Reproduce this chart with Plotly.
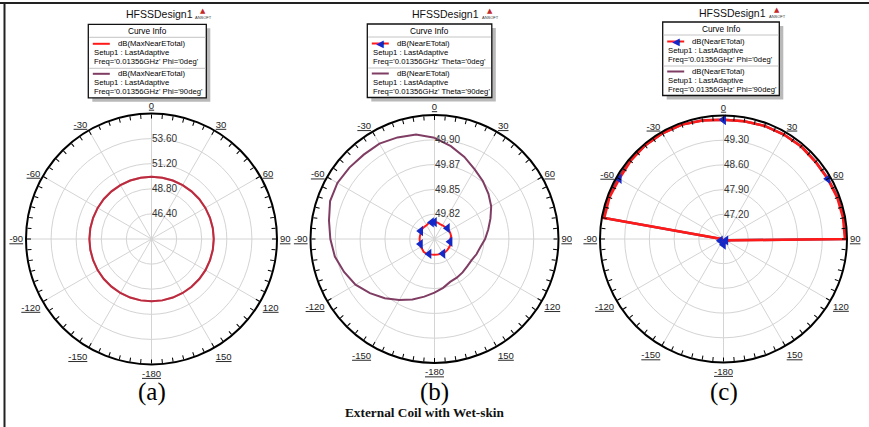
import plotly.graph_objects as go

W, H = 869, 427
FONT = "Liberation Sans, Arial, sans-serif"
SERIF = "Liberation Serif, Times New Roman, serif"

# ---------------- data ----------------
theta_deg = list(range(0, 361, 10))  # 0..360, clockwise from top

# (a) dB(MaxNearETotal)
a_phi0 = [49.95, 49.95, 49.95, 49.95, 49.95, 49.95, 49.95, 49.95, 49.95, 49.95,
          49.95, 49.95, 49.96, 49.96, 49.96, 49.96, 49.96, 49.96, 49.96, 49.96,
          49.96, 49.96, 49.95, 49.95, 49.95, 49.94, 49.94, 49.94, 49.94, 49.94,
          49.94, 49.95, 49.95, 49.95, 49.95, 49.95, 49.95]
a_phi90 = [49.95, 49.95, 49.95, 49.95, 49.95, 49.95, 49.95, 49.95, 49.96, 49.96,
           49.96, 49.96, 49.96, 49.96, 49.96, 49.96, 49.96, 49.96, 49.96, 49.96,
           49.96, 49.95, 49.95, 49.95, 49.95, 49.94, 49.94, 49.94, 49.94, 49.94,
           49.95, 49.95, 49.95, 49.95, 49.95, 49.95, 49.95]

# (b) dB(NearETotal)  Theta=0deg / Theta=90deg
b_theta0 = [49.814, 49.814, 49.813, 49.813, 49.813, 49.814, 49.814, 49.814, 49.814, 49.813,
            49.813, 49.814, 49.814, 49.814, 49.814, 49.814, 49.813, 49.813, 49.813, 49.813,
            49.813, 49.814, 49.814, 49.813, 49.813, 49.812, 49.812, 49.812, 49.812, 49.812,
            49.813, 49.813, 49.813, 49.813, 49.814, 49.814, 49.814]
b_theta90 = [49.899, 49.892, 49.885, 49.878, 49.873, 49.868, 49.863, 49.857, 49.852, 49.848,
             49.844, 49.842, 49.840, 49.840, 49.841, 49.842, 49.843, 49.847, 49.851, 49.856,
             49.862, 49.868, 49.875, 49.882, 49.889, 49.894, 49.899, 49.902, 49.905, 49.909,
             49.910, 49.909, 49.908, 49.908, 49.906, 49.904, 49.899]

# (c) dB(NearETotal)  Phi=0deg / Phi=90deg
c_phi0 = [49.88, 49.89, 49.91, 49.92, 49.92, 49.90, 49.91, 49.93, 49.94, 49.94,
          46.72, 46.62, 46.58, 46.60, 46.63, 46.60, 46.57, 46.62, 46.66, 46.62,
          46.58, 46.55, 46.60, 46.64, 46.60, 46.56, 46.54, 46.55, 49.93, 49.94,
          49.91, 49.94, 49.96, 49.96, 49.95, 49.91, 49.88]
c_phi90 = [49.88, 49.89, 49.91, 49.92, 49.93, 49.91, 49.92, 49.95, 49.96, 49.96,
           46.70, 46.64, 46.60, 46.58, 46.61, 46.62, 46.59, 46.60, 46.64, 46.63,
           46.60, 46.57, 46.58, 46.62, 46.62, 46.58, 46.56, 46.56, 49.97, 49.97,
           49.95, 49.95, 49.96, 49.96, 49.95, 49.92, 49.88]

# radial scales and ring labels
a_range, a_ticks, a_text = [44.0, 56.0], [46.4, 48.8, 51.2, 53.6], ["46.40", "48.80", "51.20", "53.60"]
b_range, b_ticks, b_text = [49.797, 49.922], [49.822, 49.847, 49.872, 49.897], ["49.82", "49.85", "49.87", "49.90"]
c_range, c_ticks, c_text = [46.5, 50.0], [47.2, 47.9, 48.6, 49.3], ["47.20", "47.90", "48.60", "49.30"]

ang_minor = list(range(0, 360, 5))
ang_text = ["<u>%d</u>" % (v if v < 180 else v - 360) if v % 30 == 0 else "" for v in ang_minor]

setup_txt = "Setup1 : LastAdaptive"
freq_txt = "Freq='0.01356GHz'"
a_names = ["dB(MaxNearETotal)", "dB(MaxNearETotal)"]
a_cond = ["Phi='0deg'", "Phi='90deg'"]
b_names = ["dB(NearETotal)", "dB(NearETotal)"]
b_cond = ["Theta='0deg'", "Theta='90deg'"]
c_names = ["dB(NearETotal)", "dB(NearETotal)"]
c_cond = ["Phi='0deg'", "Phi='90deg'"]

RED = "#ff1a1a"
PURPLE = "#7f3d63"
BLUE = "#1428c8"


def full_name(n, c):
    return "%s<br>%s<br>%s %s" % (n, setup_txt, freq_txt, c)


fig = go.Figure()

# ---- (a)
fig.add_trace(go.Scatterpolar(r=a_phi0, theta=theta_deg, mode="lines", subplot="polar",
                              line=dict(color=RED, width=2), showlegend=False,
                              name=full_name(a_names[0], a_cond[0])))
fig.add_trace(go.Scatterpolar(r=a_phi90, theta=theta_deg, mode="lines", subplot="polar",
                              line=dict(color=PURPLE, width=2), opacity=0.55, showlegend=False,
                              name=full_name(a_names[1], a_cond[1])))
# ---- (b)
fig.add_trace(go.Scatterpolar(r=b_theta0, theta=theta_deg, mode="lines+markers", subplot="polar3",
                              line=dict(color=RED, width=2),
                              marker=dict(symbol="triangle-left", size=9, color=BLUE, maxdisplayed=8),
                              showlegend=False, name=full_name(b_names[0], b_cond[0])))
fig.add_trace(go.Scatterpolar(r=b_theta90, theta=theta_deg, mode="lines", subplot="polar3",
                              line=dict(color=PURPLE, width=2), showlegend=False,
                              name=full_name(b_names[1], b_cond[1])))
# ---- (c)
fig.add_trace(go.Scatterpolar(r=c_phi90, theta=theta_deg, mode="lines", subplot="polar5",
                              line=dict(color=PURPLE, width=2.5), showlegend=False,
                              name=full_name(c_names[1], c_cond[1])))
fig.add_trace(go.Scatterpolar(r=c_phi0, theta=theta_deg, mode="lines+markers", subplot="polar5",
                              line=dict(color=RED, width=2.5),
                              marker=dict(symbol="triangle-left", size=9, color=BLUE, maxdisplayed=7),
                              showlegend=False, name=full_name(c_names[0], c_cond[0])))


def dom(cx, cy, R):
    return dict(x=[(cx - R) / W, (cx + R) / W], y=[(H - cy - R) / H, (H - cy + R) / H])


def main_polar(d, rng, tv, tt):
    return dict(
        domain=d, bgcolor="white", sector=[0, 360],
        angularaxis=dict(rotation=90, direction="clockwise", tickvals=list(range(0, 360, 30)),
                         showticklabels=False, ticks="", showgrid=True, gridcolor="#d4d4d4",
                         gridwidth=1, showline=False),
        radialaxis=dict(range=rng, tickvals=tv, ticktext=tt, angle=90, side="clockwise",
                        tickangle=90, showline=False, ticks="", showgrid=True,
                        gridcolor="#d4d4d4", gridwidth=1,
                        tickfont=dict(family=FONT, size=10, color="#333")),
    )


def tick_polar(d, rng):
    return dict(
        domain=d, bgcolor="rgba(0,0,0,0)",
        angularaxis=dict(rotation=90, direction="clockwise", tickvals=ang_minor, ticktext=ang_text,
                         ticks="inside", ticklen=4, tickwidth=1.2, tickcolor="black",
                         showline=True, linecolor="black", linewidth=2, showgrid=False,
                         tickfont=dict(family=FONT, size=9.5, color="#222")),
        radialaxis=dict(range=rng, visible=False),
    )


dA = dom(151.5, 239, 125.5)
dB = dom(434.5, 239, 124)
dC = dom(723.5, 239, 123.5)

# empty traces so that the tick overlays exist
for sp in ("polar2", "polar4", "polar6"):
    fig.add_trace(go.Scatterpolar(r=[], theta=[], subplot=sp, showlegend=False, hoverinfo="skip"))


def px(x):
    return x / W


def py(y):
    return 1 - y / H


annotations = []
shapes = [
    dict(type="line", xref="paper", yref="paper", x0=0, x1=1, y0=py(3), y1=py(3),
         line=dict(color="#222", width=2)),
    dict(type="line", xref="paper", yref="paper", x0=px(4.5), x1=px(4.5), y0=0, y1=py(3),
         line=dict(color="#222", width=2)),
]


def text_ann(x, y, t, size=7.7, anchor="left", color="black", family=FONT):
    annotations.append(dict(x=px(x), y=py(y), xref="paper", yref="paper", text=t, showarrow=False,
                            xanchor=anchor, yanchor="middle", font=dict(family=family, size=size, color=color)))


def curve_info(x0, y0, w, names, conds, colors, marker_flags):
    h = 73.5
    # shadow + box
    shapes.append(dict(type="rect", xref="paper", yref="paper", x0=px(x0 + 4), x1=px(x0 + w + 4),
                       y0=py(y0 + h + 4), y1=py(y0 + 4), fillcolor="#b9b9b9", line=dict(width=0)))
    shapes.append(dict(type="rect", xref="paper", yref="paper", x0=px(x0), x1=px(x0 + w),
                       y0=py(y0 + h), y1=py(y0), fillcolor="white", line=dict(color="#111", width=1.3)))
    text_ann(x0 + w / 2, y0 + 7, "Curve Info", size=8.3, anchor="center")
    for dy in (13, 44):
        shapes.append(dict(type="line", xref="paper", yref="paper", x0=px(x0 + 1), x1=px(x0 + w - 1),
                           y0=py(y0 + dy), y1=py(y0 + dy), line=dict(color="#c4c4c4", width=1)))
    for k, (n, c, col, mk) in enumerate(zip(names, conds, colors, marker_flags)):
        base = y0 + 19.5 + 30 * k
        shapes.append(dict(type="line", xref="paper", yref="paper", x0=px(x0 + 4.5), x1=px(x0 + 21.5),
                           y0=py(base), y1=py(base), line=dict(color=col, width=2)))
        if mk:
            text_ann(x0 + 13, base, "◀", size=10, anchor="center", color=BLUE, family="DejaVu Sans")
        text_ann(x0 + 27.5, base, n)
        text_ann(x0 + 3.5, base + 9, setup_txt)
        text_ann(x0 + 3.5, base + 18, "%s %s" % (freq_txt, c))


curve_info(88.3, 24.3, 118, a_names, a_cond, [RED, PURPLE], [False, False])
curve_info(367.3, 24.0, 124.5, b_names, b_cond, [RED, PURPLE], [True, False])
curve_info(662.7, 22.0, 116.6, c_names, c_cond, [RED, PURPLE], [True, False])

for cx, lx, ty in ((159, 203, 14), (445, 490, 14), (732, 777, 13)):
    text_ann(cx, ty, "HFSSDesign1", size=10.5, anchor="center", color="#111")
    text_ann(lx, ty - 3, "▲", size=7, anchor="center", color="#c62828", family="DejaVu Sans")
    text_ann(lx, ty + 3.5, "ANSOFT", size=4, anchor="center", color="#333")

for cx, t in ((151.5, "(a)"), (434.5, "(b)"), (723.5, "(c)")):
    text_ann(cx, 392, t, size=25, anchor="center", family=SERIF)
text_ann(425, 412, "<b>External Coil with Wet-skin</b>", size=13.3, anchor="center", color="#111", family=SERIF)

fig.update_layout(
    width=W, height=H, margin=dict(l=0, r=0, t=0, b=0),
    paper_bgcolor="white", plot_bgcolor="white", showlegend=False,
    polar=main_polar(dA, a_range, a_ticks, a_text), polar2=tick_polar(dA, a_range),
    polar3=main_polar(dB, b_range, b_ticks, b_text), polar4=tick_polar(dB, b_range),
    polar5=main_polar(dC, c_range, c_ticks, c_text), polar6=tick_polar(dC, c_range),
    annotations=annotations, shapes=shapes,
)

fig.write_html("out.html")
